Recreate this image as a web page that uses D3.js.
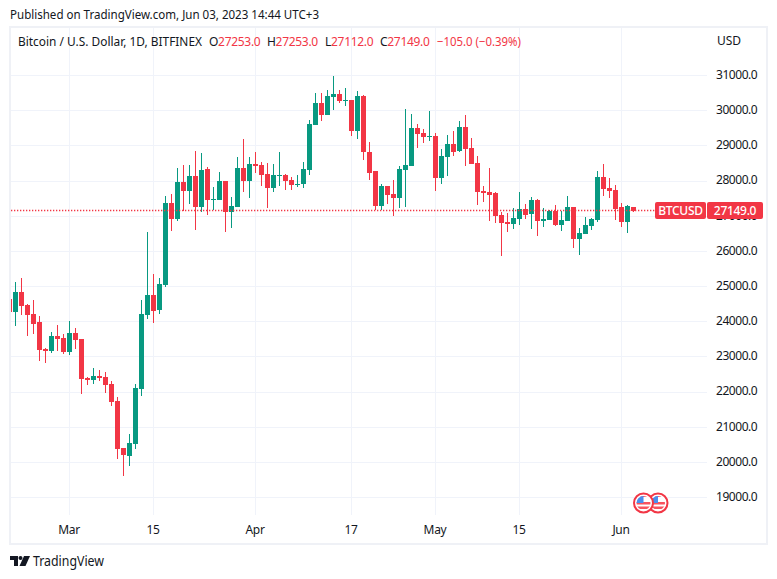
<!DOCTYPE html>
<html><head><meta charset="utf-8">
<style>html,body{margin:0;padding:0;background:#fff}svg{display:block}text{font-family:"Noto Sans","Open Sans",sans-serif;fill:#131722}</style>
<script src="https://cdn.jsdelivr.net/npm/d3@7/dist/d3.min.js"></script>
</head><body><svg id="c" width="777" height="579"></svg>
<script>
const startDate = "2023-02-19";
const opens = [24640,24266,24835,24465,24209,23982,23214,23157,23583,23526,23128,23669,23498,22389,22332,22445,22417,22218,21734,20397,20169,20511,22076,24181,24750,24323,25034,27367,26912,27964,27708,28135,27254,28335,27453,27453,27993,27111,27254,28363,27993,28477,28448,28192,27794,28136,28164,28022,27880,27908,28306,29586,30212,29871,30383,30468,30269,30298,29416,30411,28818,28278,27282,27851,27623,27509,28306,28419,29500,29358,29244,29273,28078,28675,29045,28846,29529,28931,28505,27708,27680,27651,27025,26826,26769,26912,27196,27054,27452,26855,26883,27139,26741,26855,27253,26343,26485,26713,26884,28107,27794,27737,27253,26827,27253];
const highs = [24700,25120,25233,24494,24608,24152,23242,23697,23896,23640,24010,23811,23498,22417,22673,22616,22559,22303,21848,20397,20795,22218,24608,26542,25347,25233,27566,27623,28363,28448,28448,28846,28790,28391,27822,28249,27993,27538,28676,29188,28676,28818,28534,28505,28477,28818,28192,28107,28164,28534,29729,30497,30497,30582,30980,30582,30639,30298,30554,30440,29103,28278,27908,27851,28021,28419,30041,29899,29614,29472,29984,29358,28903,29301,29415,29700,29870,29216,28704,27850,28362,27680,27111,27082,27225,27680,27338,27537,27480,27225,27168,27310,27140,27566,27253,26656,26969,26940,28278,28477,28078,27879,27367,27310,27253];
const lows = [24200,23868,24181,23583,23640,22872,22815,23100,23157,23071,23043,23214,21933,22189,22218,22303,21962,21592,20084,19600,19885,20369,21876,24067,23953,24209,24977,26570,26855,27139,27338,26599,27111,27026,27168,27453,26542,26656,27254,27680,27510,28221,27851,27225,27680,27851,27737,27737,27822,27794,28164,29586,29700,29871,30013,30212,30127,29273,29188,28591,28022,27168,27168,27339,26997,27225,27253,28419,28931,29074,29131,27708,27907,28135,28704,28818,28419,28476,27310,27395,26855,26798,25859,26542,26627,26741,26912,26627,26428,26684,26883,26712,26571,26855,26087,25888,26485,26599,26827,27566,27509,26884,26684,26514,27112];
const closes = [24270,24835,24437,24181,23925,23185,23157,23583,23498,23128,23669,23470,22360,22332,22445,22389,22189,21706,20369,20198,20539,22104,24209,24750,24295,25063,27367,26912,27964,27708,28135,27253,28306,27453,27481,27993,27111,27282,28363,27993,28477,28420,28164,27794,28164,28164,27993,27880,27908,28335,29615,30212,29871,30411,30468,30269,30298,29416,30411,28818,28221,27282,27851,27595,27509,28334,28448,29500,29330,29244,29273,28078,28704,29045,28818,29529,28903,28476,27680,27651,27594,26997,26798,26769,26940,27196,27025,27452,26855,26912,27139,26741,26884,27253,26343,26514,26741,26912,28107,27766,27709,27197,26827,27282,27149];
const priceTicks = [31000,30000,29000,28000,27000,26000,25000,24000,23000,22000,21000,20000,19000];
const timeTickDates = ["2023-03-01","2023-03-15","2023-04-01","2023-04-17","2023-05-01","2023-05-15","2023-06-01"];
const timeTickLabels = ["Mar","15","Apr","17","May","15","Jun"];
const lastPrice = 27149;
const symbolLabel = "BTCUSD";

const day = 864e5, t0 = Date.parse(startDate+"T00:00:00Z");
const candles = opens.map((o,i)=>({d:new Date(t0+i*day),o,h:highs[i],l:lows[i],c:closes[i]}));
const UP="#089981", DOWN="#f23645", GRID="#f0f3fa", BORDER="#eff1f6";
const svg=d3.select("#c");
const x=d3.scaleUtc().domain([new Date("2023-03-01T00:00:00Z"),new Date("2023-06-01T00:00:00Z")]).range([69.5,621.5]);
const y=d3.scaleLinear().domain([19000,31000]).range([497.5,75.5]);
const snap=v=>Math.floor(v)+.5;
const L=11,R=707,T=28,B=515;

// frame
svg.append("rect").attr("x",10).attr("y",27).attr("width",757).attr("height",517).attr("fill","none").attr("stroke",BORDER).attr("stroke-width",2);

// grid
const timeTicks=timeTickDates.map(s=>new Date(s+"T00:00:00Z"));
svg.append("g").selectAll("line").data(timeTicks).join("line").attr("x1",d=>snap(x(d))).attr("x2",d=>snap(x(d))).attr("y1",T).attr("y2",B).attr("stroke",GRID);
svg.append("g").selectAll("line").data(priceTicks).join("line").attr("x1",L).attr("x2",R).attr("y1",d=>snap(y(d))).attr("y2",d=>snap(y(d))).attr("stroke",GRID);

// axes (labels)
const ax=d3.axisRight(y).tickValues(priceTicks).tickSize(0).tickPadding(0).tickFormat(d=>d.toFixed(1));
const gy=svg.append("g").attr("transform","translate(716,-1)").call(ax);
gy.select(".domain").remove();
gy.selectAll("text").attr("font-size",12).attr("letter-spacing",-0.45).style("font-family",'"Noto Sans"');
const bx=d3.axisBottom(x).tickValues(timeTicks).tickSize(0).tickPadding(0).tickFormat((d,i)=>timeTickLabels[i]);
const gx=svg.append("g").attr("transform","translate(-1,525)").call(bx);
gx.select(".domain").remove();
gx.selectAll("text").attr("font-size",12).attr("letter-spacing",-0.3);

// clip
svg.append("clipPath").attr("id","pane").append("rect").attr("x",L).attr("y",T).attr("width",R-L).attr("height",B-T);
const pane=svg.append("g").attr("clip-path","url(#pane)");

// candles
const cg=pane.append("g");
cg.selectAll("line").data(candles).join("line")
 .attr("x1",d=>Math.floor(x(d.d))+.5).attr("x2",d=>Math.floor(x(d.d))+.5)
 .attr("y1",d=>Math.round(y(d.h))).attr("y2",d=>Math.round(y(d.l)))
 .attr("stroke",d=>d.c>=d.o?UP:DOWN);
cg.selectAll("rect").data(candles).join("rect")
 .attr("x",d=>Math.floor(x(d.d))-2).attr("width",5)
 .attr("y",d=>Math.round(y(Math.max(d.o,d.c))))
 .attr("height",d=>Math.max(1,Math.round(y(Math.min(d.o,d.c)))-Math.round(y(Math.max(d.o,d.c)))))
 .attr("fill",d=>d.c>=d.o?UP:DOWN);

// last price line
pane.append("line").attr("x1",L).attr("x2",656).attr("y1",snap(y(lastPrice))-.5+.5).attr("y2",snap(y(lastPrice))).attr("stroke",DOWN).attr("stroke-width",1.3).attr("stroke-dasharray","1.3 1.7");

// price labels
const ly=snap(y(lastPrice));
svg.append("rect").attr("x",655).attr("y",ly-8.5).attr("width",51).attr("height",17).attr("rx",2).attr("fill",DOWN);
svg.append("rect").attr("x",707).attr("y",ly-8.5).attr("width",56).attr("height",17).attr("rx",2).attr("fill",DOWN);
svg.append("text").attr("x",680.5).attr("y",ly+4.5).attr("text-anchor","middle").attr("font-size",12).attr("letter-spacing",-0.3).style("fill","#fff").attr("font-weight",500).text(symbolLabel);
svg.append("text").attr("x",735).attr("y",ly+4.5).attr("text-anchor","middle").attr("font-size",12).attr("letter-spacing",-0.3).style("fill","#fff").attr("font-weight",500).text(lastPrice.toFixed(1));

// header
const last=candles[candles.length-1];
const hdr=(s,xp,yp,len,col)=>svg.append("text").attr("x",xp).attr("y",yp).attr("font-size",12).attr("textLength",len).attr("lengthAdjust","spacingAndGlyphs").style("fill",col||"#131722").text(s);
hdr("Published on TradingView.com, Jun 03, 2023 14:44 UTC+3",10,19,309);
hdr("Bitcoin / U.S. Dollar, 1D, BITFINEX",18,46,184);
svg.append("text").attr("x",717).attr("y",45).attr("font-size",12).text("USD");
[["O",last.o,209],["H",last.h,267],["L",last.l,325],["C",last.c,380]].forEach(([k,v,xp])=>{
  const t=svg.append("text").attr("x",xp).attr("y",46).attr("font-size",12).attr("letter-spacing",-0.3);
  t.append("tspan").text(k);
  t.append("tspan").style("fill",DOWN).text(v.toFixed(1));
});
svg.append("text").attr("x",437).attr("y",46).attr("font-size",12).attr("textLength",84).attr("lengthAdjust","spacingAndGlyphs").style("fill",DOWN).text("\u2212105.0 (\u22120.39%)");

// flags
function flag(cx,cy,id){
  const g=svg.append("g");
  g.append("circle").attr("cx",cx).attr("cy",cy).attr("r",9.5).attr("fill","#fff").attr("stroke",DOWN).attr("stroke-width",2);
  g.append("clipPath").attr("id",id).append("circle").attr("cx",cx).attr("cy",cy).attr("r",7);
  const f=g.append("g").attr("clip-path",`url(#${id})`);
  [-1,3.5].forEach(dy=>f.append("rect").attr("x",cx-8).attr("y",cy+dy).attr("width",16).attr("height",2.5).attr("fill","#f7525f"));
  f.append("rect").attr("x",cx-8).attr("y",cy-8).attr("width",16).attr("height",2).attr("fill","#f7525f");
  f.append("rect").attr("x",cx-8).attr("y",cy-8).attr("width",8).attr("height",8).attr("fill","#4a8fee");
}
flag(658,503,"f2");flag(643.5,503,"f1");

// logo
const lg=svg.append("g").attr("transform","translate(10,556)").attr("fill","#131722");
lg.append("path").attr("d","M0 0H8V10H4V4H0Z");
lg.append("circle").attr("cx",10.5).attr("cy",2).attr("r",2);
lg.append("path").attr("d","M14 0H20L15.5 10H9.5Z");
svg.append("text").attr("x",33).attr("y",566).attr("font-size",14).attr("textLength",71).attr("lengthAdjust","spacingAndGlyphs").text("TradingView");
</script></body></html>
